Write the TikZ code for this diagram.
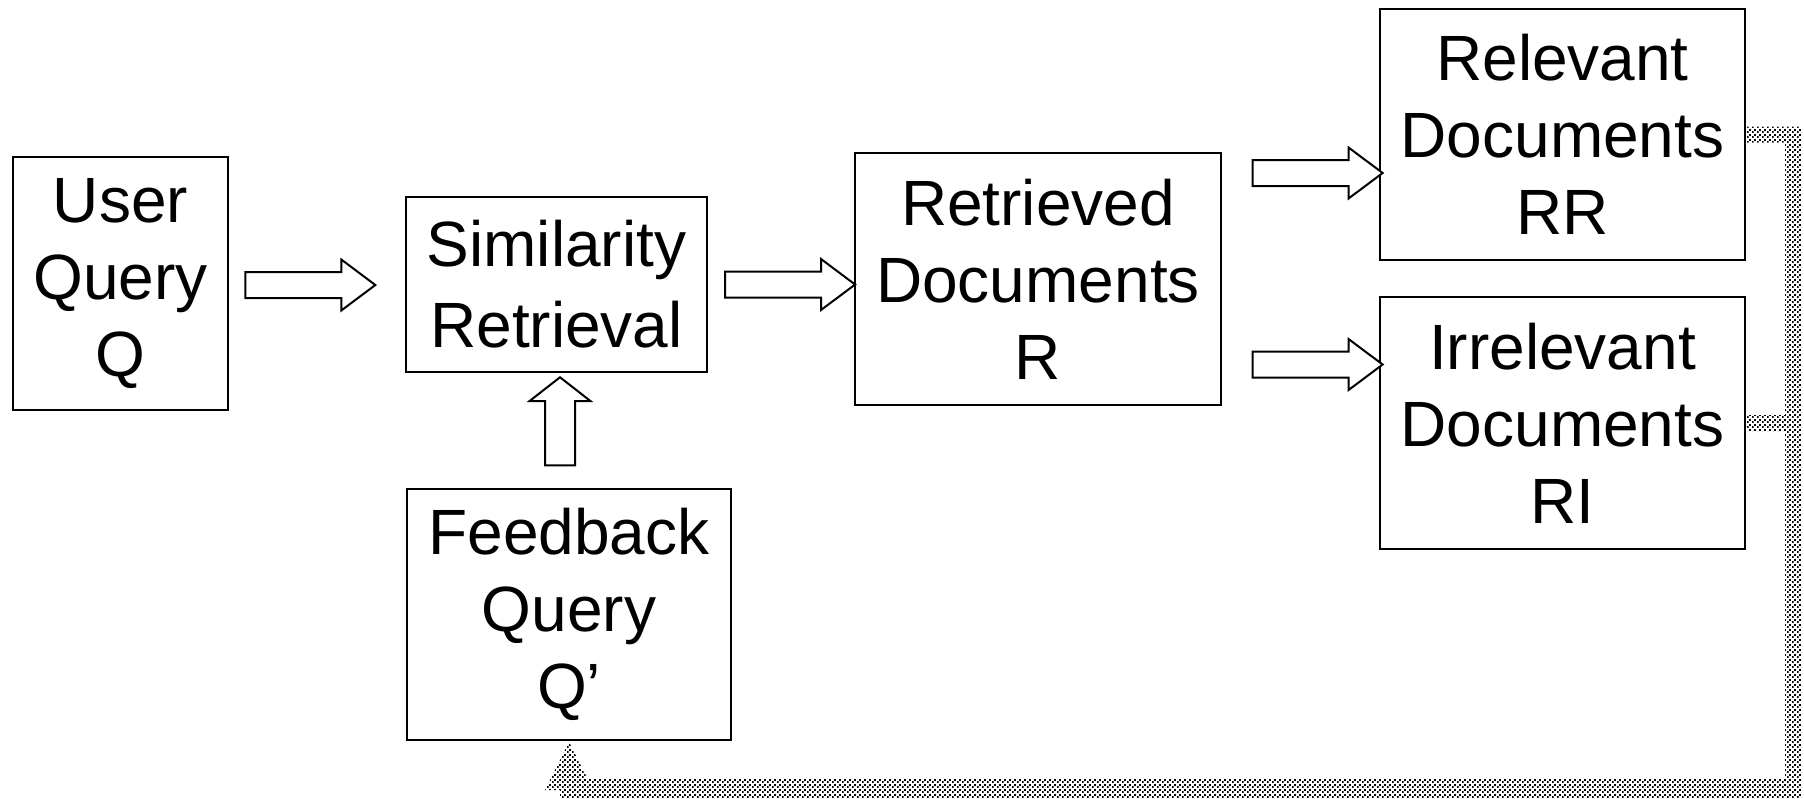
\documentclass[tikz,border=0pt]{standalone}
\usepackage{fontspec}
\setmainfont{Liberation Sans}
\usetikzlibrary{shapes.arrows,patterns}
\pgfdeclarepatternformonly{fbdots}{\pgfqpoint{0pt}{0pt}}{\pgfqpoint{4.6pt}{4.6pt}}{\pgfqpoint{4.6pt}{4.6pt}}{%
  \pgfpathrectangle{\pgfqpoint{0pt}{0pt}}{\pgfqpoint{1.9pt}{1.9pt}}%
  \pgfpathrectangle{\pgfqpoint{2.3pt}{2.3pt}}{\pgfqpoint{1.9pt}{1.9pt}}%
  \pgfusepath{fill}}
\tikzset{
  box/.style={draw, line width=2.5pt, align=center, inner sep=0pt,
    font=\fontsize{64}{77}\selectfont},
  harrow/.style={single arrow, draw, line width=2pt, fill=white,
    inner xsep=0pt, inner ysep=12pt, minimum height=130pt,
    single arrow head extend=12.5pt, single arrow tip angle=73.7,
    single arrow head indent=0pt, anchor=tip},
  varrow/.style={single arrow, draw, line width=2pt, fill=white,
    inner xsep=0pt, inner ysep=14pt, minimum height=88pt,
    single arrow head extend=15.5pt, single arrow tip angle=104,
    single arrow head indent=0pt, anchor=tip, rotate=90},
  fbband/.style={pattern=fbdots, pattern color=black}
}
\begin{document}
\begin{tikzpicture}[x=1pt,y=-1pt]
\useasboundingbox (0,0) rectangle (1804,798);
% boxes
\node[box, minimum width=215pt, minimum height=253pt] (UQ) at (120.5,283.5) {User\\Query\\Q};
\node[box, minimum width=301pt, minimum height=175pt, font=\fontsize{64}{81}\selectfont] (SR) at (556.5,284.5) {Similarity\\Retrieval};
\node[box, minimum width=324pt, minimum height=251pt] (FQ) at (569,614.5) {Feedback\\Query\\Q’};
\node[box, minimum width=366pt, minimum height=252pt] (R) at (1038,279) {Retrieved\\Documents\\R};
\node[box, minimum width=365pt, minimum height=251pt] (RR) at (1562.5,134.5) {Relevant\\Documents\\RR};
\node[box, minimum width=365pt, minimum height=252pt] (RI) at (1562.5,423) {Irrelevant\\Documents\\RI};
% block arrows
\node[harrow] (a1) at (377,285) {};
\node[harrow] (a2) at ([xshift=3pt]R.west |- 0,284.5) {};
\node[harrow] (a3) at ([xshift=5.5pt]RR.west |- 0,173) {};
\node[harrow] (a4) at ([xshift=5.5pt]RI.west |- 0,364.5) {};
\node[varrow] (a5) at (560,376) {};
% feedback band
\fill[fbband] ([yshift=8pt]RR.east) -- (1801,126.5) -- (1801,798) -- (560,798)
  -- (560,790) -- (545,790) -- (569,742) -- (587,778) -- (1785,778)
  -- (1785,431) -- ([yshift=-8pt]RI.east) -- ([yshift=8pt]RI.east)
  -- (1785,415) -- (1785,142.5) -- ([yshift=-8pt]RR.east) -- cycle;
\end{tikzpicture}
\end{document}
